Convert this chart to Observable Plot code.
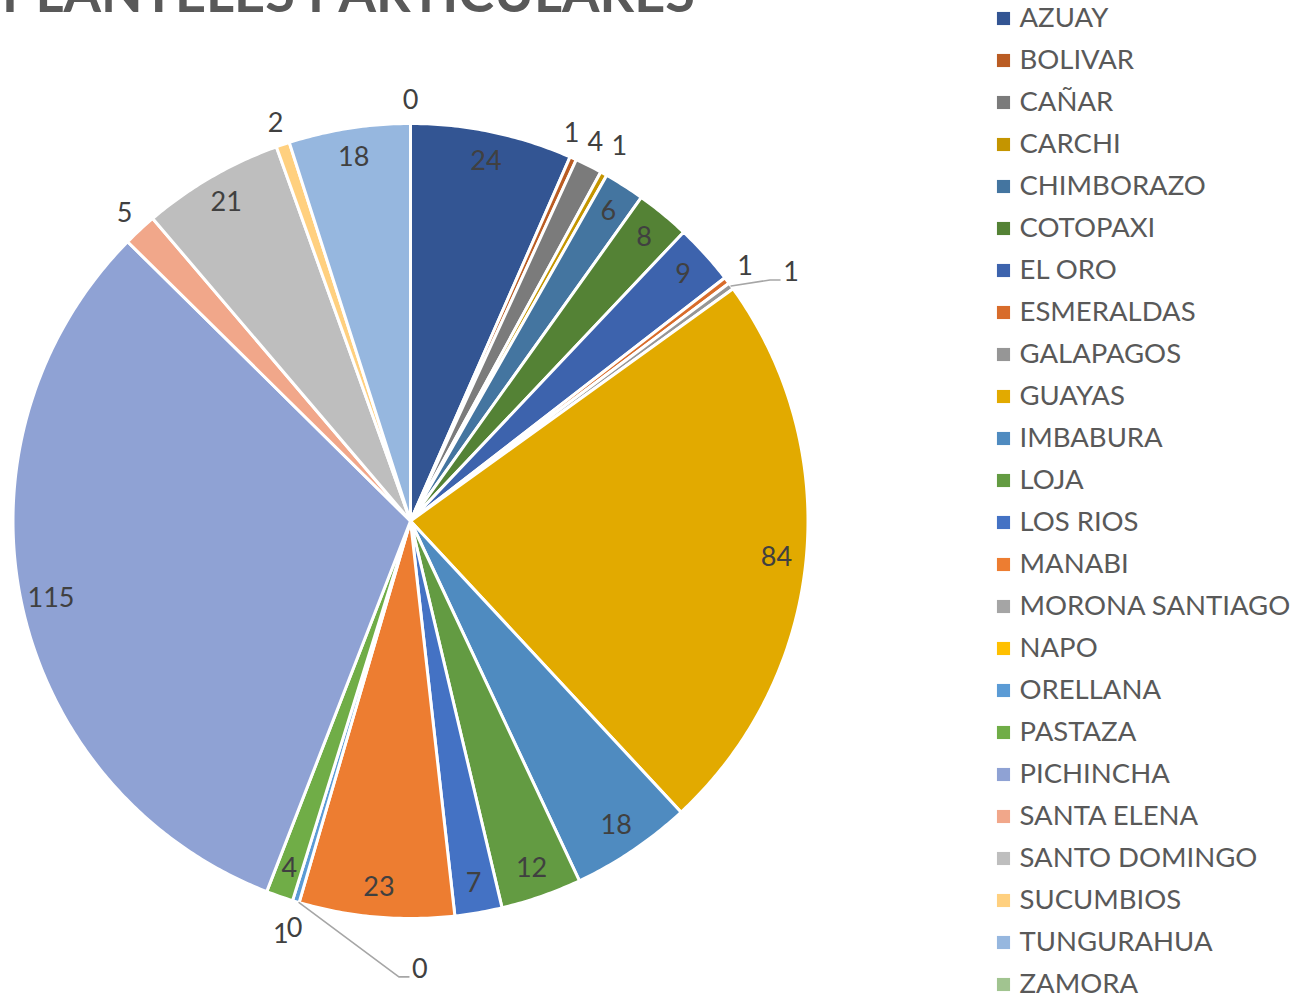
<!DOCTYPE html>
<html><head><meta charset="utf-8">
<script src="https://cdn.jsdelivr.net/npm/d3@7"></script>
<script src="https://cdn.jsdelivr.net/npm/@observablehq/plot@0.6"></script>
<style>
body{margin:0;background:#fff;}
#wrap{position:relative;width:1315px;height:1000px;overflow:hidden;font-family:Lato,sans-serif;background:#fff;}
#title{position:absolute;left:2px;top:-35px;font-weight:700;font-size:54px;color:#595959;white-space:nowrap;line-height:1;}
#pie{position:absolute;left:0;top:0;}
#legend{position:absolute;left:985px;top:0;}
</style></head><body>
<div id="wrap"><div id="title">PLANTELES PARTICULARES</div><div id="pie"></div><div id="legend"></div></div>
<script>
// ---- data ----
const provinces = ["AZUAY","BOLIVAR","CAÑAR","CARCHI","CHIMBORAZO","COTOPAXI","EL ORO","ESMERALDAS","GALAPAGOS","GUAYAS","IMBABURA","LOJA","LOS RIOS","MANABI","MORONA SANTIAGO","NAPO","ORELLANA","PASTAZA","PICHINCHA","SANTA ELENA","SANTO DOMINGO","SUCUMBIOS","TUNGURAHUA","ZAMORA"];
const counts = [24,1,4,1,6,8,9,1,1,84,18,12,7,23,0,0,1,4,115,5,21,2,18,0];
const colors = ["#335593","#BA5C23","#7B7B7B","#C49500","#4475A0","#548235","#3D63AD","#D86C2B","#969696","#E2AA00","#4F8BC0","#639B42","#4472C4","#ED7D31","#A5A5A5","#FFC000","#5B9BD5","#70AD47","#8FA2D4","#F1A78A","#BEBEBE","#FFD07F","#96B7DF","#A1C490"];
// label placement: "in" inside the slice, "out" just outside, "leader" with a leader line
const placement = ["in","out","out","out","in","in","in","out","leader","in","in","in","in","in","leader","out","out","in","in","out","in","out","in","out"];
// a few manual label nudges (angle in degrees, radius factor)
const nudges = {"BOLIVAR":{a:22.6,r:1.055},"CAÑAR":{a:26,r:1.06},"CARCHI":{a:29.1,r:1.08},"GALAPAGOS":{a:56.8,r:1.144},"MORONA SANTIAGO":{a:178.8,r:1.127},"NAPO":{a:195.9,r:1.065},"ORELLANA":{a:197.4,r:1.09}};

// ---- layout ----
const R = 397.5, cx = 410, cy = 520.5;
const rIn = 0.925, rOut = 1.057;

const data = provinces.map((name,i)=>({name, value:counts[i], place:placement[i]}));
const arcs = d3.pie().sort(null).value(d=>d.value)(data);

const polys = [];
arcs.forEach(a=>{
  if (a.data.value <= 0) return;
  const n = Math.max(2, Math.ceil((a.endAngle-a.startAngle)/(Math.PI/360)));
  polys.push({name:a.data.name, x:0, y:0});
  for (let k=0;k<=n;k++){
    const t = a.startAngle + (a.endAngle-a.startAngle)*k/n;
    polys.push({name:a.data.name, x:R*Math.sin(t), y:R*Math.cos(t)});
  }
  polys.push({name:a.data.name, x:0, y:0});
});

const labels = [], leaders = [];
arcs.forEach(a=>{
  const d = a.data;
  let ang = (a.startAngle+a.endAngle)/2, rf = d.place==="in" ? rIn : rOut;
  const nd = nudges[d.name];
  if (nd){ ang = nd.a*Math.PI/180; rf = nd.r; }
  const lx = R*rf*Math.sin(ang), ly = R*rf*Math.cos(ang);
  labels.push({name:d.name, value:d.value, x:lx, y:ly});
  if (d.place==="leader"){
    const m = (a.startAngle+a.endAngle)/2;
    leaders.push({name:d.name, x:R*Math.sin(m), y:R*Math.cos(m)});
    leaders.push({name:d.name, x:lx-21, y:ly-8});
    leaders.push({name:d.name, x:lx-11, y:ly-8});
  }
});

const pie = Plot.plot({
  width: 830, height: 1000, margin: 0,
  x: {domain:[-R,R], range:[cx-R, cx+R], axis:null},
  y: {domain:[-R,R], range:[cy+R, cy-R], axis:null},
  color: {domain: provinces, range: colors},
  style: {background:"transparent", fontFamily:"Lato, sans-serif"},
  marks: [
    Plot.line(polys, {x:"x", y:"y", z:"name", fill:"name", stroke:"white", strokeWidth:3, strokeLinejoin:"round"}),
    Plot.line(leaders, {x:"x", y:"y", z:"name", stroke:"#A6A6A6", strokeWidth:1.6}),
    Plot.text(labels, {x:"x", y:"y", text:d=>String(d.value), fill:"#404040", fontSize:27})
  ]
});
document.getElementById("pie").appendChild(pie);

const legend = Plot.plot({
  width: 330, height: 1000, margin: 0,
  x: {type:"point", domain:["swatch","label"], range:[18,34], padding:0, axis:null},
  y: {type:"point", domain: provinces, range:[16.3, 985.3], padding:0, axis:null},
  color: {domain: provinces, range: colors},
  style: {background:"transparent", fontFamily:"Lato, sans-serif"},
  marks: [
    Plot.dot(provinces, {x:()=>"swatch", y:d=>d, fill:d=>d, symbol:"square", r:7.4}),
    Plot.text(provinces, {x:()=>"label", y:d=>d, text:d=>d, textAnchor:"start", fill:"#595959", fontSize:27.5})
  ]
});
document.getElementById("legend").appendChild(legend);
</script>
</body></html>
